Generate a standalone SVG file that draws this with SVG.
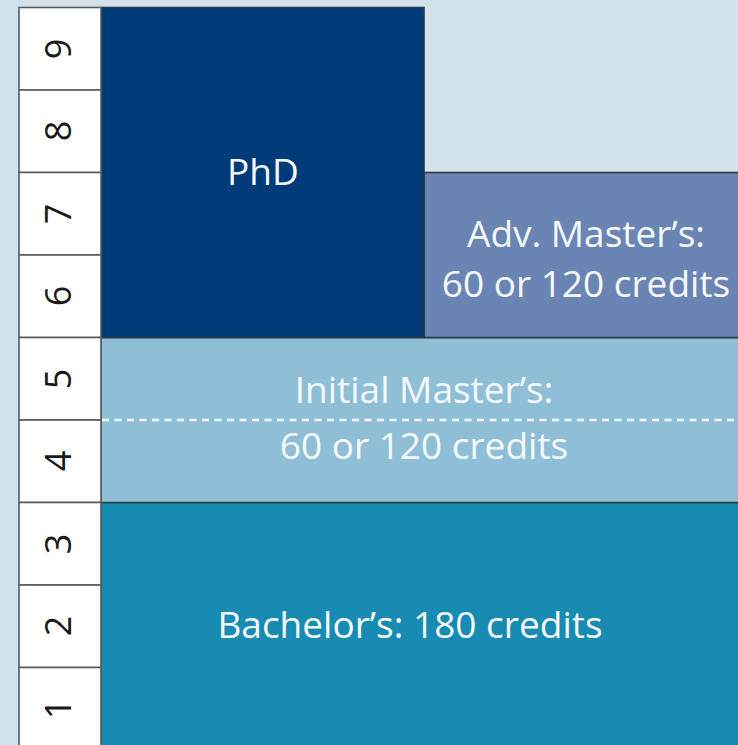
<svg xmlns="http://www.w3.org/2000/svg" width="738" height="745" viewBox="0 0 738 745">
<style>
.lbl{font-family:"Open Sans","Noto Sans","Liberation Sans",sans-serif;font-size:37px;fill:#f6f9fc;text-anchor:middle}
.num{font-family:"Open Sans","Noto Sans","Liberation Sans",sans-serif;font-size:36px;fill:#1a1a1a;text-anchor:middle}
.cell{fill:#ffffff;stroke:#5a5a5a;stroke-width:1.6}
.box{stroke:#2b3a4c;stroke-width:1.6}
</style>
<rect x="0" y="0" width="738" height="745" fill="#d1e2ec"/>
<g id="bachelor">
<rect class="box" x="101" y="502.5" width="640" height="250" fill="#178bb1"/>
<text class="lbl" x="410" y="638">Bachelor’s: 180 credits</text>
</g>
<g id="initial-master">
<rect class="box" x="101" y="337.5" width="640" height="165" fill="#8fbfd7"/>
<line x1="102" y1="420" x2="738" y2="420" stroke="#f4f8fb" stroke-width="2.6" stroke-dasharray="7 5.5"/>
<text class="lbl" x="424" y="403">Initial Master’s:</text>
<text class="lbl" x="424" y="459">60 or 120 credits</text>
</g>
<g id="adv-master">
<rect class="box" x="424" y="172.5" width="317" height="165" fill="#6a85b3"/>
<text class="lbl" x="586" y="247">Adv. Master’s:</text>
<text class="lbl" x="586" y="297">60 or 120 credits</text>
</g>
<g id="phd">
<rect class="box" x="101" y="7.5" width="323" height="330" fill="#003b79"/>
<text class="lbl" x="263" y="185">PhD</text>
</g>
<g id="level-scale">
<rect class="cell" x="19" y="7.5" width="82" height="82.5"/>
<rect class="cell" x="19" y="90" width="82" height="82.5"/>
<rect class="cell" x="19" y="172.5" width="82" height="82.5"/>
<rect class="cell" x="19" y="255" width="82" height="82.5"/>
<rect class="cell" x="19" y="337.5" width="82" height="82.5"/>
<rect class="cell" x="19" y="420" width="82" height="82.5"/>
<rect class="cell" x="19" y="502.5" width="82" height="82.5"/>
<rect class="cell" x="19" y="585" width="82" height="82.5"/>
<rect class="cell" x="19" y="667.5" width="82" height="90"/>
<text class="num" transform="translate(58 49) rotate(-90)" y="13">9</text>
<text class="num" transform="translate(58 131) rotate(-90)" y="13">8</text>
<text class="num" transform="translate(58 214) rotate(-90)" y="13">7</text>
<text class="num" transform="translate(58 296) rotate(-90)" y="13">6</text>
<text class="num" transform="translate(58 379) rotate(-90)" y="13">5</text>
<text class="num" transform="translate(58 461) rotate(-90)" y="13">4</text>
<text class="num" transform="translate(58 544) rotate(-90)" y="13">3</text>
<text class="num" transform="translate(58 626) rotate(-90)" y="13">2</text>
<text class="num" transform="translate(58 709) rotate(-90)" y="13">1</text>
</g>
</svg>
